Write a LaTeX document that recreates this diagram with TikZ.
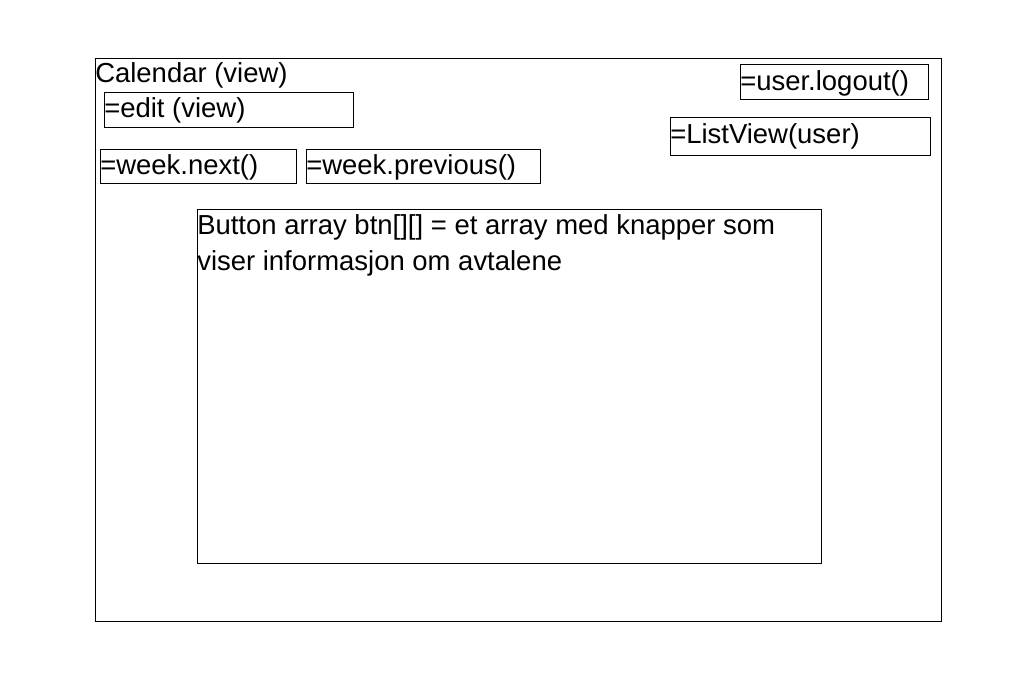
\documentclass[tikz,border=0pt]{standalone}
\usepackage{fontspec}
\setmainfont{Liberation Sans}
\begin{document}
\begin{tikzpicture}[x=0.75pt,y=-0.75pt,
  frame/.style={draw=black,line width=0.6pt},
  lbl/.style={anchor=base west,inner sep=0pt,font=\fontsize{20.6}{27}\selectfont}]
\useasboundingbox (0,0) rectangle (1024,683);
\fill[white] (0,0) rectangle (1024,683);
% outer frame
\draw[frame] (95,58) rectangle (941,621);
\node[lbl] (cal) at (95,82) {Calendar (view)};
% boxes
\draw[frame] (104,92) rectangle (353,127);
\node[lbl] (edit) at (104,117) {=edit (view)};
\draw[frame] (100,149) rectangle (296,183);
\node[lbl] (next) at (100,174) {=week.next()};
\draw[frame] (306,149) rectangle (540,183);
\node[lbl] (prev) at (306,174) {=week.previous()};
\draw[frame] (740,64) rectangle (928,99);
\node[lbl] (logout) at (740,90) {=user.logout()};
\draw[frame] (670,117) rectangle (930,155);
\node[lbl] (list) at (670,143) {=ListView(user)};
% big box
\draw[frame] (197,209) rectangle (821,563);
\node[lbl] (btn1) at (197,234) {Button array btn[][] = et array med knapper som};
\node[lbl] (btn2) at (197,270) {viser informasjon om avtalene};
\end{tikzpicture}
\end{document}
